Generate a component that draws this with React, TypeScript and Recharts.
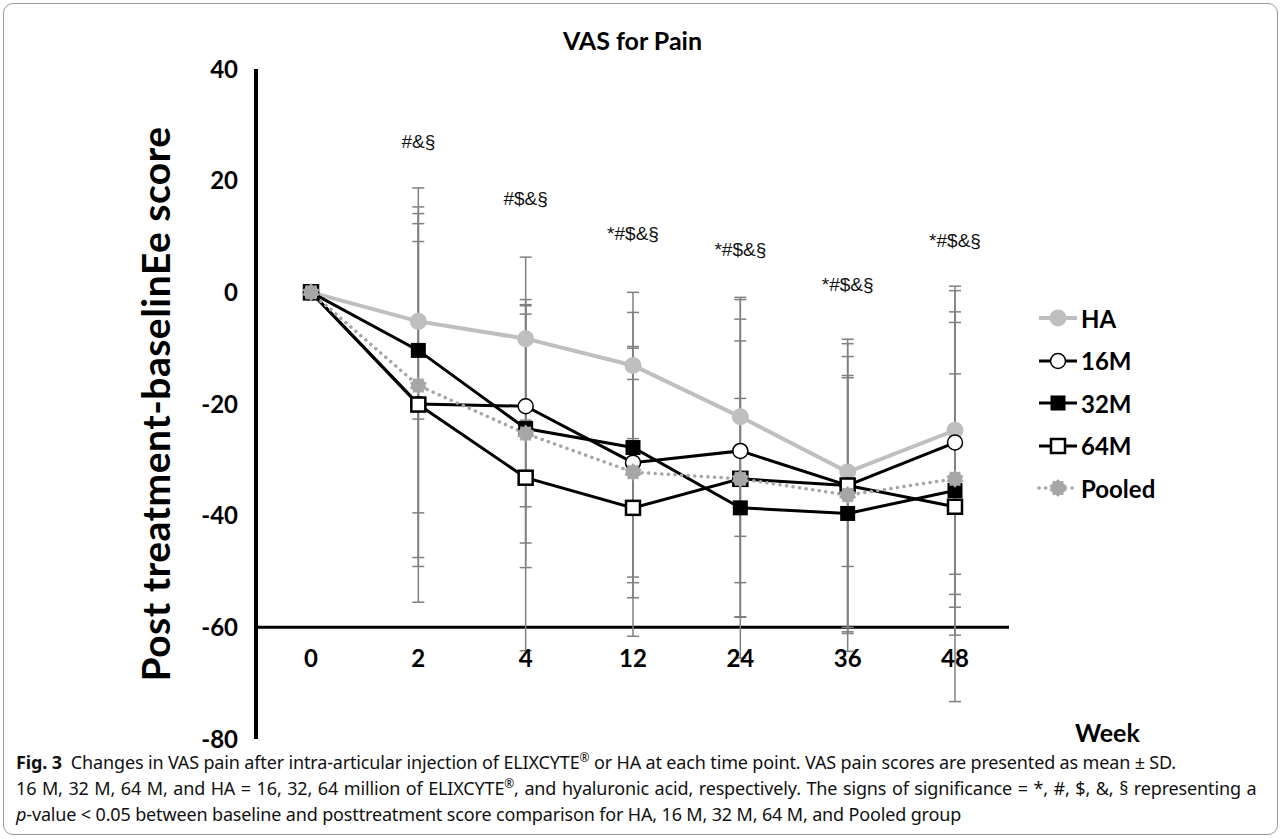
import React from "react";
import {
  ComposedChart,
  Line,
  XAxis,
  YAxis,
  ErrorBar,
  ReferenceLine,
  LabelList,
} from "recharts";

const weeks = ["0", "2", "4", "12", "24", "36", "48"];

const ha = [0, -5.2, -8.3, -13.1, -22.3, -32.2, -24.7];
const m16 = [0, -20, -20.4, -30.5, -28.4, -34.6, -26.9];
const m32 = [0, -10.4, -24.4, -27.8, -38.6, -39.6, -35.5];
const m64 = [0, -20.1, -33.2, -38.6, -33.4, -34.6, -38.4];
const pooled = [0, -16.7, -25.3, -32.2, -33.4, -36.3, -33.4];

const haSd = [0, 17.5, 14.6, 13.1, 21.4, 16.9, 25.8];
const m16Sd = [0, 29.1, 18, 20.5, 23.6, 26.2, 27.2];
const m32Sd = [0, 29.1, 20.5, 24.2, 19.6, 24.7, 20.9];
const m64Sd = [0, 35.4, 31, 23, 32.1, 25.4, 34.9];
const pooledSd = [0, 30.8, 24, 22.5, 24.7, 24.8, 28];

const sigText = ["", "#&§", "#$&§", "*#$&§", "*#$&§", "*#$&§", "*#$&§"];
const sigPos = [null, 27.0, 16.8, 10.6, 7.7, 1.4, 9.3];

const yTicks = [-80, -60, -40, -20, 0, 20, 40];

const data = weeks.map((w, i) => ({
  week: w,
  ha: ha[i],
  haSd: haSd[i],
  m16: m16[i],
  m16Sd: m16Sd[i],
  m32: m32[i],
  m32Sd: m32Sd[i],
  m64: m64[i],
  m64Sd: m64Sd[i],
  pooled: pooled[i],
  pooledSd: pooledSd[i],
  sig: sigText[i],
  sigY: sigPos[i],
}));

const FONT = "Lato, 'Open Sans', sans-serif";
const ERR = "#808080";

type Marker = "disc" | "ring" | "block" | "box" | "star";

const series: {
  key: string;
  name: string;
  color: string;
  width: number;
  dash?: string;
  marker: Marker;
}[] = [
  { key: "ha", name: "HA", color: "#bfbfbf", width: 4, marker: "disc" },
  { key: "m16", name: "16M", color: "#000", width: 3, marker: "ring" },
  { key: "m32", name: "32M", color: "#000", width: 3, marker: "block" },
  { key: "m64", name: "64M", color: "#000", width: 3, marker: "box" },
  {
    key: "pooled",
    name: "Pooled",
    color: "#a6a6a6",
    width: 3.5,
    dash: "0.1 6.5",
    marker: "star",
  },
];

function starPoints(cx: number, cy: number, ro: number, ri: number, n: number) {
  const pts: string[] = [];
  for (let i = 0; i < n * 2; i++) {
    const r = i % 2 === 0 ? ro : ri;
    const a = (Math.PI * i) / n - Math.PI / 2;
    pts.push(`${cx + r * Math.cos(a)},${cy + r * Math.sin(a)}`);
  }
  return pts.join(" ");
}

function MarkerShape({ type, cx, cy }: { type: Marker; cx: number; cy: number }) {
  switch (type) {
    case "disc":
      return <circle cx={cx} cy={cy} r={8.5} fill="#bfbfbf" />;
    case "ring":
      return <circle cx={cx} cy={cy} r={7.5} fill="#fff" stroke="#000" strokeWidth={1.5} />;
    case "block":
      return <rect x={cx - 7.5} y={cy - 7.5} width={15} height={15} fill="#000" />;
    case "box":
      return (
        <rect x={cx - 7} y={cy - 7} width={14} height={14} fill="#fff" stroke="#000" strokeWidth={2.5} />
      );
    case "star":
      return <polygon points={starPoints(cx, cy, 9, 7, 10)} fill="#a6a6a6" />;
  }
}

const makeDot = (type: Marker) => (props: any) => {
  const { cx, cy, index } = props;
  if (cx == null || cy == null) return <g key={`e-${index}`} />;
  return (
    <g key={`d-${type}-${index}`}>
      <MarkerShape type={type} cx={cx} cy={cy} />
    </g>
  );
};

const WeekTick = (props: any) => {
  const { x, y, payload } = props;
  return (
    <text
      x={x}
      y={y - 90}
      textAnchor="middle"
      dominantBaseline="central"
      fontFamily={FONT}
      fontWeight="bold"
      fontSize={24}
      fill="#000"
    >
      {payload.value}
    </text>
  );
};

const SigLabel = (props: any) => {
  const { x, y, value } = props;
  if (!value) return null;
  return (
    <text
      x={x}
      y={y}
      textAnchor="middle"
      dominantBaseline="central"
      fontFamily="'Liberation Sans', Arial, sans-serif"
      fontSize={19}
      fill="#111"
    >
      {value}
    </text>
  );
};

function LegendBox() {
  return (
    <div style={{ position: "absolute", left: 1037, top: 297 }}>
      {series.map((s) => (
        <div
          key={s.key}
          style={{ display: "flex", alignItems: "center", height: 42.5 }}
        >
          <svg width={42} height={24}>
            <line
              x1={2}
              y1={12}
              x2={40}
              y2={12}
              stroke={s.color}
              strokeWidth={s.width}
              strokeDasharray={s.dash}
              strokeLinecap={s.dash ? "round" : "butt"}
            />
            <MarkerShape type={s.marker} cx={21} cy={12} />
          </svg>
          <span
            style={{
              fontFamily: FONT,
              fontWeight: 700,
              fontSize: 24,
              marginLeft: 2,
              color: "#000",
            }}
          >
            {s.name}
          </span>
        </div>
      ))}
    </div>
  );
}

const supStyle: React.CSSProperties = {
  fontSize: 12,
  verticalAlign: "super",
  lineHeight: 0,
};

const capLine: React.CSSProperties = {
  height: 14,
  lineHeight: "14px",
  marginBottom: 12,
};

export default function App() {
  return (
    <div
      style={{
        position: "absolute",
        left: 0,
        top: 0,
        width: 1281,
        height: 839,
        background: "#fff",
        overflow: "hidden",
      }}
    >
      <div
        style={{
          position: "absolute",
          left: 3,
          top: 3,
          width: 1273,
          height: 830,
          border: "1px solid #9a9a9a",
          borderRadius: 10,
        }}
      />
      <div
        style={{
          position: "absolute",
          left: 0,
          top: 22,
          width: 1265,
          textAlign: "center",
          fontFamily: FONT,
          fontWeight: 700,
          fontSize: 25,
          lineHeight: "36px",
        }}
      >
        VAS for Pain
      </div>
      <div style={{ position: "absolute", left: 0, top: 0 }}>
        <ComposedChart
          width={1281}
          height={760}
          data={data}
          margin={{ top: 69, right: 272, bottom: 1, left: 0 }}
        >
          <XAxis
            dataKey="week"
            axisLine={false}
            tickLine={false}
            interval={0}
            height={20}
            padding={{ left: 55, right: 54 }}
            tick={<WeekTick />}
            label={{
              value: "Week",
              position: "right",
              offset: 66,
              dy: -16,
              style: {
                fontFamily: FONT,
                fontWeight: 700,
                fontSize: 25,
                fill: "#000",
                textAnchor: "start",
              },
            }}
          />
          <YAxis
            type="number"
            domain={[-80, 40]}
            ticks={yTicks}
            width={256}
            axisLine={{ stroke: "#000", strokeWidth: 4 }}
            tickLine={false}
            tickSize={0}
            tickMargin={18}
            tick={{
              fontFamily: FONT,
              fontWeight: 700,
              fontSize: 24,
              fill: "#000",
            }}
            label={{
              value: "Post treatment-baselinEe score",
              angle: -90,
              position: "center",
              dx: 28,
              style: {
                fontFamily: FONT,
                fontWeight: 700,
                fontSize: 39,
                letterSpacing: 0.5,
                fill: "#000",
                textAnchor: "middle",
              },
            }}
          />
          <ReferenceLine y={-60} stroke="#000" strokeWidth={3} ifOverflow="extendDomain" />
          {series.map((s) => (
            <Line
              key={`err-${s.key}`}
              dataKey={s.key}
              stroke="none"
              dot={false}
              activeDot={false}
              legendType="none"
              isAnimationActive={false}
            >
              <ErrorBar
                dataKey={`${s.key}Sd`}
                width={6}
                stroke={ERR}
                strokeWidth={1.5}
                direction="y"
                isAnimationActive={false}
              />
            </Line>
          ))}
          {series.map((s) => (
            <Line
              key={s.key}
              dataKey={s.key}
              name={s.name}
              stroke={s.color}
              strokeWidth={s.width}
              strokeDasharray={s.dash}
              strokeLinecap={s.dash ? "round" : "butt"}
              dot={makeDot(s.marker)}
              activeDot={false}
              isAnimationActive={false}
            />
          ))}
          <Line
            dataKey="sigY"
            stroke="none"
            dot={false}
            activeDot={false}
            legendType="none"
            isAnimationActive={false}
          >
            <LabelList dataKey="sig" content={<SigLabel />} />
          </Line>
        </ComposedChart>
      </div>
      <LegendBox />
      <div
        style={{
          position: "absolute",
          left: 16,
          top: 755,
          fontFamily: "'Noto Sans', sans-serif",
          fontSize: 18,
          letterSpacing: -0.15,
          color: "#111",
          whiteSpace: "nowrap",
        }}
      >
        <div style={capLine}>
          <b>Fig. 3</b>&nbsp; Changes in VAS pain after intra-articular injection of ELIXCYTE
          <span style={supStyle}>®</span> or HA at each time point. VAS pain scores are presented
          as mean ± SD.
        </div>
        <div style={{ ...capLine, wordSpacing: 1.1 }}>
          16 M, 32 M, 64 M, and HA = 16, 32, 64 million of ELIXCYTE
          <span style={supStyle}>®</span>, and hyaluronic acid, respectively. The signs of
          significance = *, #, $, &amp;, § representing a
        </div>
        <div style={capLine}>
          <i>p</i>-value &lt; 0.05 between baseline and posttreatment score comparison for HA, 16 M,
          32 M, 64 M, and Pooled group
        </div>
      </div>
    </div>
  );
}
